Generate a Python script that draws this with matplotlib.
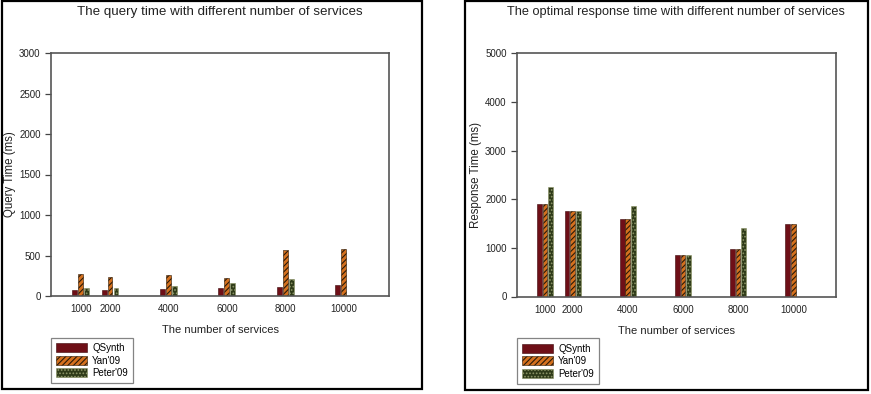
import matplotlib.pyplot as plt
import numpy as np
from matplotlib.patches import Rectangle

plt.rcParams['font.family'] = ['Liberation Sans', 'DejaVu Sans']
plt.rcParams['hatch.linewidth'] = 0.8

services = [1000, 2000, 4000, 6000, 8000, 10000]
tick_labels = ['1000', '2000', '4000', '6000', '8000', '10000']
methods = ['QSynth', "Yan'09", "Peter'09"]

# query time (ms), left chart
query_qsynth = [70, 80, 90, 95, 105, 135]
query_yan = [270, 230, 255, 220, 565, 575]
query_peter = [100, 95, 125, 155, 205, 0]

# optimal response time (ms), right chart
resp_qsynth = [1900, 1750, 1600, 850, 970, 1500]
resp_yan = [1900, 1750, 1600, 850, 970, 1500]
resp_peter = [2250, 1750, 1870, 850, 1400, 0]

colors = ['#6e0f17', '#d4701e', '#2e3a18']
hatches = [None, '//////', '.....']
edges = ['#3a0508', '#2a1a08', '#8e9668']

fig = plt.figure(figsize=(8.71, 3.94), dpi=100)

# panel frames
fig.add_artist(Rectangle((1.5/871, 1 - 389/394), 420/871, 388/394, transform=fig.transFigure,
                         fill=False, lw=1.6, ec='black'))
fig.add_artist(Rectangle((465/871, 1 - 390/394), 403/871, 389/394, transform=fig.transFigure,
                         fill=False, lw=1.6, ec='black'))


def draw(ax, series, ymax, ystep, ylabel, title, title_x, title_size):
    x = np.array(services, dtype=float)
    bw = 170
    off = 205
    for i, vals in enumerate(series):
        xs = x + (i - 1) * off
        v = np.array(vals, dtype=float)
        m = v > 0
        ax.bar(xs[m], v[m], width=bw, color=colors[i], hatch=hatches[i],
               edgecolor=edges[i], linewidth=0.4, label=methods[i])
    ax.set_xlim(-20, 11550)
    ax.set_ylim(0, ymax)
    ax.set_yticks(np.arange(0, ymax + 1, ystep))
    ax.set_xticks(services)
    ax.set_xticklabels(tick_labels)
    ax.tick_params(axis='x', length=0, labelsize=7, pad=6, colors='#222222')
    ax.tick_params(axis='y', length=4, width=0.9, labelsize=7, colors='#444444',
                   labelcolor='#222222')
    for s in ax.spines.values():
        s.set_color('#555555')
        s.set_linewidth(1.2)
    ax.set_xlabel('The number of services', fontsize=8, labelpad=8, color='#222222')
    ax.set_ylabel(ylabel, fontsize=8.3, labelpad=2, color='#222222')
    fig.text(title_x, 1 - 12/394, title, ha='center', va='center', fontsize=title_size,
             color='#222222')
    leg = ax.legend(loc='upper left', bbox_to_anchor=(0.0, -0.172), fontsize=7,
                    frameon=True, fancybox=False, edgecolor='#666666',
                    handlelength=3.2, handleheight=1.0, labelspacing=0.25,
                    borderpad=0.55, handletextpad=0.5, borderaxespad=0)
    leg.get_frame().set_linewidth(0.9)


ax1 = fig.add_axes([51/871, 1 - 296/394, 338/871, 243/394])
draw(ax1, [query_qsynth, query_yan, query_peter], 3000, 500,
     'Query Time (ms)', 'The query time with different number of services', 220/871, 9.6)

ax2 = fig.add_axes([517/871, 1 - 296.5/394, 319/871, 243.2/394])
draw(ax2, [resp_qsynth, resp_yan, resp_peter], 5000, 1000,
     'Response Time (ms)', 'The optimal response time with different number of services',
     676/871, 9.2)

plt.savefig('out.png', dpi=100)
